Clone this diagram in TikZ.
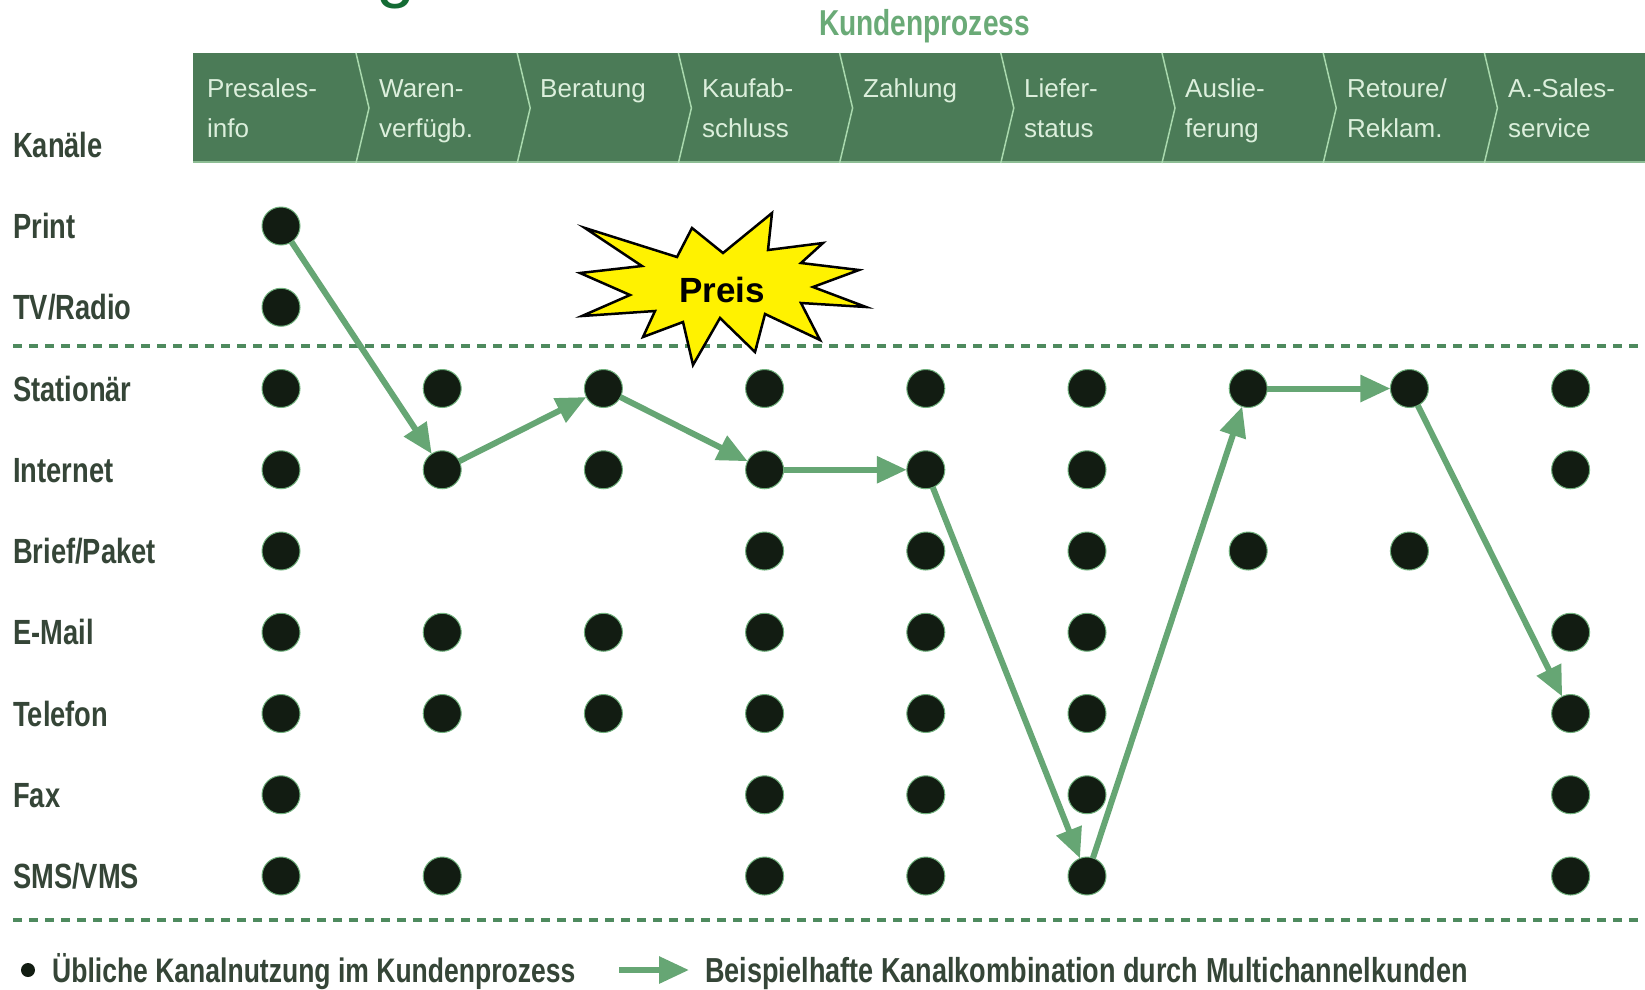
\documentclass[tikz,border=0pt]{standalone}
\usepackage{fontspec}
\setmainfont{Liberation Sans}
\newfontfamily\labfont[FakeStretch=0.78]{Liberation Sans Bold}
\newfontfamily\hdrfont{Liberation Sans}
\newfontfamily\boldfont{Liberation Sans Bold}
\usetikzlibrary{arrows.meta}
\definecolor{hdrfill}{HTML}{4B7B57}
\definecolor{hdrtext}{HTML}{DCEFDC}
\definecolor{sepc}{HTML}{A9D9AE}
\definecolor{dotc}{HTML}{121C12}
\definecolor{dotedge}{HTML}{6FB07C}
\definecolor{flowc}{HTML}{66A674}
\definecolor{dashc}{HTML}{4E8A5E}
\definecolor{labc}{HTML}{354537}
\definecolor{kpc}{HTML}{6AAA77}
\definecolor{gc}{HTML}{146B34}
\newcommand{\twol}[2]{\vtop{\baselineskip=40pt\hbox{#1}\hbox{#2}}}
\tikzset{
  lab/.style={font=\labfont\fontsize{35}{40}\selectfont, text=labc, inner sep=0pt, anchor=base west},
  legtext/.style={font=\labfont\fontsize{34}{40}\selectfont, text=labc, inner sep=0pt, anchor=base west},
  hdr/.style={font=\hdrfont\fontsize{26}{40}\selectfont, text=hdrtext, inner sep=0pt, anchor=base west},
  dot/.style={circle, fill=dotc, draw=dotedge, line width=1pt, minimum size=38pt, inner sep=0pt, outer sep=0pt},
  flow/.style={draw=flowc, line width=6pt, -{Triangle[length=30pt,width=26pt]}},
  sepline/.style={draw=sepc, line width=1.5pt},
  dashline/.style={draw=dashc, line width=4pt, dash pattern=on 9pt off 7pt},
  starshape/.style={fill=yellow, draw=black, line width=2.5pt, line join=miter}
}
\begin{document}
\begin{tikzpicture}[x=1pt,y=-1pt]
\useasboundingbox (0,0) rectangle (1645,989);
\clip (0,0) rectangle (1645,989);
\fill[white] (0,0) rectangle (1645,989);

% title fragment (cut off at the top edge, as in the reference)
\node[font=\hdrfont\fontsize{70}{70}\selectfont, text=gc, anchor=base west, inner sep=0pt] (gfrag) at (376,-6) {g};

% Kundenprozess
\node[font=\labfont\fontsize{36}{40}\selectfont, text=kpc, anchor=base west, inner sep=0pt] (kp) at (819,35) {Kundenprozess};

% header band
\fill[hdrfill] (193,53) rectangle (1645,163);
\draw[sepc!70!hdrfill, line width=2pt] (193,162) -- (1645,162);
\foreach \k in {0,...,7} {
  \pgfmathsetmacro{\sx}{356+161.2*\k}
  \draw[sepline] (\sx,53) -- (\sx+13,108) -- (\sx,163);
}
\node[hdr] (h1) at (207,97) {\twol{Presales-}{info}};
\node[hdr] (h2) at (379,97) {\twol{Waren-}{verfügb.}};
\node[hdr] (h3) at (540,97) {Beratung};
\node[hdr] (h4) at (702,97) {\twol{Kaufab-}{schluss}};
\node[hdr] (h5) at (863,97) {Zahlung};
\node[hdr] (h6) at (1024,97) {\twol{Liefer-}{status}};
\node[hdr] (h7) at (1185,97) {\twol{Auslie-}{ferung}};
\node[hdr] (h8) at (1347,97) {\twol{Retoure/}{Reklam.}};
\node[hdr] (h9) at (1508,97) {\twol{A.-Sales-}{service}};

% row labels
\node[lab] (kanaele) at (13,157) {Kanäle};
\node[lab] (lprint) at (13,238.5) {Print};
\node[lab] (ltv) at (13,319.75) {TV/Radio};
\node[lab] (lstat) at (13,401) {Stationär};
\node[lab] (lint) at (13,482.25) {Internet};
\node[lab] (lbrief) at (13,563.5) {Brief/Paket};
\node[lab] (lmail) at (13,644.75) {E-Mail};
\node[lab] (ltel) at (13,726) {Telefon};
\node[lab] (lfax) at (13,807.25) {Fax};
\node[lab] (lsms) at (13,888.5) {SMS/VMS};

% dashed separators
\draw[dashline] (13,346) -- (1645,346);
\draw[dashline] (13,920) -- (1645,920);

% dots: rows 0..8, cols 1..9
\foreach \c/\rows in {1/{0,1,2,3,4,5,6,7,8}, 2/{2,3,5,6,8}, 3/{2,3,5,6}, 4/{2,3,4,5,6,7,8}, 5/{2,3,4,5,6,7,8}, 6/{2,3,4,5,6,7,8}, 7/{2,4}, 8/{2,4}, 9/{2,3,5,6,7,8}} {
  \foreach \r in \rows {
    \node[dot] (d\c-\r) at ({281+161.2*(\c-1)},{226+81.25*\r}) {};
  }
}

% example channel path
\draw[flow] (d1-0) -- (d2-3);
\draw[flow] (d2-3) -- (d3-2);
\draw[flow] (d3-2) -- (d4-3);
\draw[flow] (d4-3) -- (d5-3);
\draw[flow] (d5-3) -- (d6-8);
\draw[flow] (d6-8) -- (d7-2);
\draw[flow] (d7-2) -- (d8-2);
\draw[flow] (d8-2) -- (d9-6);

% Preis star
\draw[starshape] (585,228) -- (677,257) -- (692,228) -- (723,253) -- (772,213) -- (768,250) -- (823,243) -- (801,263) -- (859,270) -- (813,287) -- (866,307) -- (801,303) -- (820,340) -- (765,314) -- (755,352) -- (720,318) -- (693,365) -- (683,322) -- (643,337) -- (655,311) -- (582,316) -- (630,295) -- (580,273) -- (642,266) -- cycle;
\node[font=\boldfont\fontsize{35}{40}\selectfont, text=black, inner sep=0pt] (preis) at (722,290) {Preis};

% legend
\node[circle, fill=dotc, minimum size=14pt, inner sep=0pt] (legdot) at (28,970) {};
\node[legtext] (leg1) at (52,982) {Übliche Kanalnutzung im Kundenprozess};
\coordinate (la1) at (619,970);
\coordinate (la2) at (689,970);
\draw[flow] (la1) -- (la2);
\node[legtext, font=\labfont\fontsize{34.7}{40}\selectfont] (leg2) at (705,982) {Beispielhafte Kanalkombination durch Multichannelkunden};
\end{tikzpicture}
\end{document}
